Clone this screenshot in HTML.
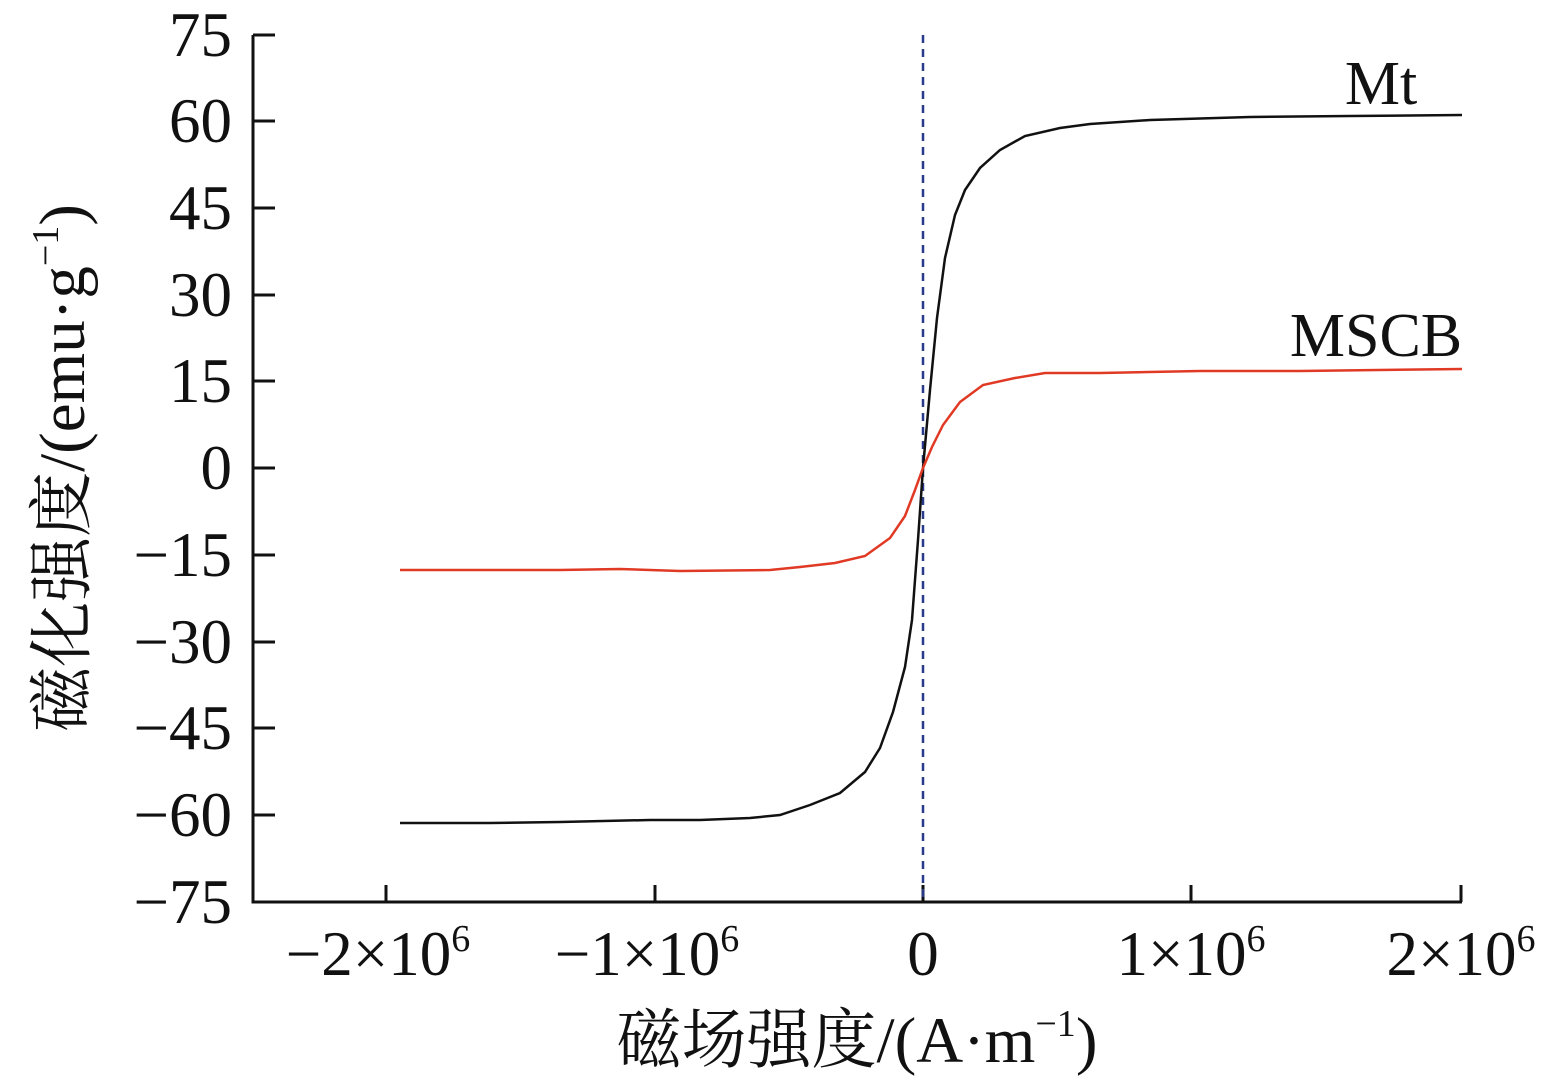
<!DOCTYPE html>
<html><head><meta charset="utf-8"><style>
body{margin:0;background:#fff}
text{font-family:"Liberation Serif","Noto Serif CJK SC",serif;fill:#111}
</style></head><body>
<svg width="1543" height="1082" xmlns="http://www.w3.org/2000/svg">
<g stroke="#111" stroke-width="3" fill="none">
<polyline points="253,35 253,902 1462,902"/>
<path d="M253,35h22M253,121h22M253,208h22M253,295h22M253,381h22M253,468h22M253,555h22M253,642h22M253,728h22M253,815h22M386,902v-17M655,902v-17M923,902v-17M1191,902v-17M1461,902v-17"/>
</g>
<line x1="923" y1="35" x2="923" y2="902" stroke="#2a3a8a" stroke-width="2.5" stroke-dasharray="8,6"/>
<polyline fill="none" stroke="#111" stroke-width="2.5" points="400,823 490,823 560,822 650,820 700,820 750,818 780,815 810,805 840,793 865,772 880,748 893,712 905,667 912,620 918,540 923,468 930,390 937,318 945,258 955,215 965,190 980,168 1000,150 1025,136 1060,128 1090,124 1150,120 1250,117 1350,116 1462,115"/>
<polyline fill="none" stroke="#e03a25" stroke-width="2.5" points="400,570 560,570 620,569 680,571 770,570 800,567 835,563 865,556 890,538 905,516 915,490 923,468 932,447 943,425 960,402 983,385 1015,378 1045,373 1100,373 1200,371 1300,371 1462,369"/>
<g font-size="63" text-anchor="end">
<text x="232" y="56">75</text><text x="232" y="142">60</text><text x="232" y="229">45</text><text x="232" y="316">30</text><text x="232" y="402">15</text><text x="232" y="489">0</text><text x="232" y="576">−15</text><text x="232" y="663">−30</text><text x="232" y="749">−45</text><text x="232" y="836">−60</text><text x="232" y="923">−75</text>
</g>
<g font-size="63" text-anchor="middle">
<text x="378" y="975">−2×10<tspan font-size="38" dy="-24">6</tspan></text>
<text x="647" y="975">−1×10<tspan font-size="38" dy="-24">6</tspan></text>
<text x="923" y="975">0</text>
<text x="1191" y="975">1×10<tspan font-size="38" dy="-24">6</tspan></text>
<text x="1461" y="975">2×10<tspan font-size="38" dy="-24">6</tspan></text>
<text x="857" y="1062" font-size="65">磁场强度/(A·m<tspan font-size="38" dy="-26">−1</tspan><tspan dy="26">)</tspan></text>
<text transform="translate(84,468) rotate(-90)" font-size="65">磁化强度/(emu·g<tspan font-size="38" dy="-26">−1</tspan><tspan dy="26">)</tspan></text>
</g>
<text x="1381" y="104" font-size="62" text-anchor="middle">Mt</text>
<text x="1376" y="356" font-size="62" text-anchor="middle">MSCB</text>
</svg>
</body></html>
